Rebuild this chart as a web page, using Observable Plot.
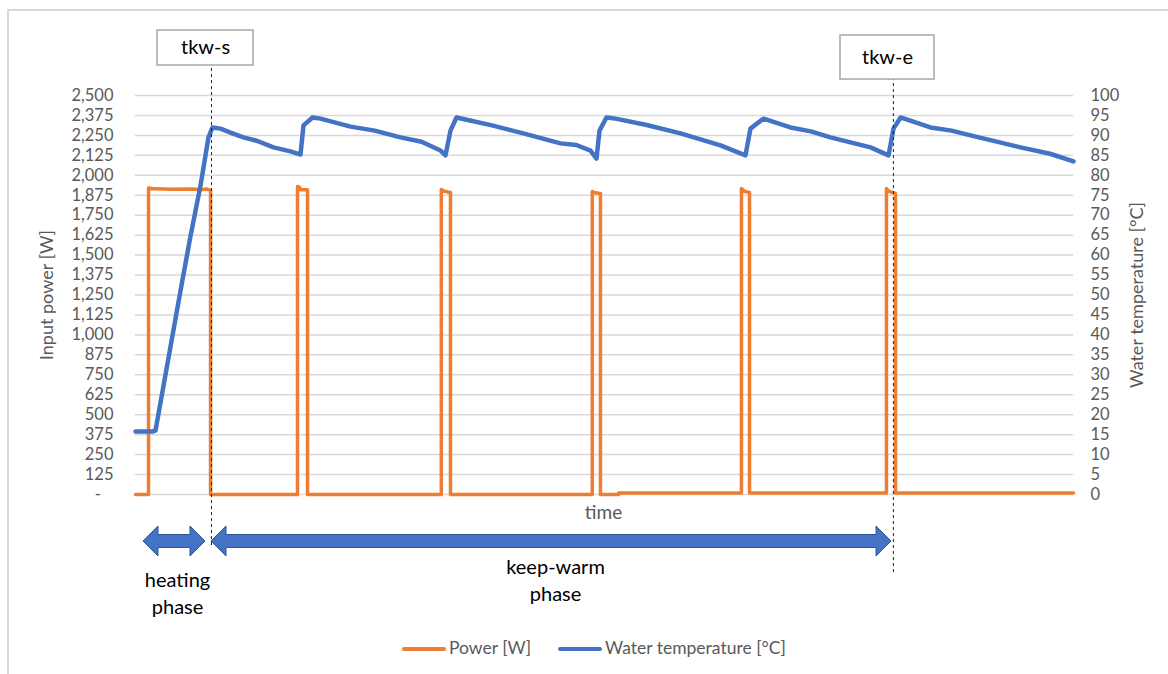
<!DOCTYPE html>
<html>
<head>
<meta charset="utf-8">
<script src="https://cdn.jsdelivr.net/npm/d3@7"></script>
<script src="https://cdn.jsdelivr.net/npm/@observablehq/plot@0.6"></script>
<style>
  html, body { margin: 0; padding: 0; background: #fff; }
  #chart { position: relative; width: 1168px; height: 674px; overflow: hidden; font-family: Lato, "Open Sans", sans-serif; }
  #frame { position: absolute; left: 7px; top: 9px; width: 1200px; height: 700px; border-top: 2px solid #d9d9d9; border-left: 2px solid #d9d9d9; }
  #plot { position: absolute; left: 0; top: 0; }
  #legend { position: absolute; left: 0; top: 630px; width: 1168px; height: 44px; font-size: 17.5px; color: #595959; }
  .sw { position: absolute; top: 17px; width: 44px; height: 4px; border-radius: 2px; }
  .lt { position: absolute; top: 7px; white-space: nowrap; }
</style>
</head>
<body>
<div id="chart">
  <div id="frame"></div>
  <div id="plot"></div>
  <div id="legend"></div>
</div>
<script>
// ---- Data (time in arbitrary units 0..1000) ----
const powerTime = [0, 13.9, 13.9, 20, 40, 60, 70, 76, 80, 80,
  172.7, 172.7, 175, 176, 183.4, 183.4,
  326, 326, 329, 335.8, 335.8,
  487, 487, 490, 495.7, 495.7, 515, 515,
  646, 646, 649, 654.6, 654.6,
  800.6, 800.6, 803, 810.2, 810.2, 1000];
const powerW = [0, 0, 1920, 1915, 1912, 1914, 1910, 1914, 1905, 0,
  0, 1930, 1925, 1910, 1910, 0,
  0, 1911, 1900, 1892, 0,
  0, 1898, 1890, 1886, 0, 0, 10,
  10, 1917, 1900, 1892, 10,
  10, 1917, 1900, 1886, 10, 10];

const tempTime = [0, 18.1, 21.3, 29.9, 48.0, 58.6, 69.3, 77.8, 82.1, 90.6, 101.3, 115.1, 130, 147.1, 165.2, 175.9,
  179.1, 188.7, 197.2, 229.2, 255, 282.5, 305, 325.2, 330.5,
  335.8, 342.2, 351.8, 380, 410.4, 453.1, 470, 485.1, 491.5,
  494.7, 502.1, 511.7, 545, 581.0, 623.7, 650.3,
  655.6, 669.5, 698.3, 720, 740.9, 783.6, 802.8,
  808.1, 815.6, 847.5, 870, 890.2, 943.5, 975, 1000];
const tempC = [15.8, 15.8, 16.0, 27.3, 51.1, 64.7, 77.4, 89.5, 92.0, 91.7, 90.7, 89.5, 88.6, 87.0, 86.0, 85.2,
  92.5, 94.5, 94.2, 92.2, 91.2, 89.5, 88.4, 86.2, 85.0,
  91.2, 94.5, 94.0, 92.5, 90.7, 88.0, 87.6, 86.2, 84.2,
  91.2, 94.5, 94.2, 92.6, 90.5, 87.5, 85.0,
  91.7, 94.2, 92.0, 91.0, 89.5, 87.0, 85.0,
  91.7, 94.5, 92.0, 91.2, 90.0, 87.0, 85.4, 83.5];

const powerTicks = d3.range(0, 2501, 125);
const tempTicks = d3.range(0, 101, 5);
const wattsPerDegree = 25; // 100 °C on the right axis lines up with 2,500 W on the left

// ---- Annotations (data space) ----
const markerLabels = ["tkw-s", "tkw-e"];
const markerTime = [81, 808];
const markerBottom = [-320, -489];
const boxX1 = [23.5, 751.6];
const boxX2 = [125.8, 851.8];
const boxTop = [2907, 2876];
const boxBottom = [2688, 2600];

const phaseLabels = ["heating\nphase", "keep-warm\nphase"];
const phaseStart = [8.5, 81];
const phaseEnd = [74.6, 806];
const phaseLabelX = [44.8, 447.8];
const phaseLabelY = [-610, -529];
const arrowLevel = -294.5;

const colors = { power: "#ed7d31", temp: "#4472c4", grid: "#d9d9d9", text: "#595959" };

// ---- Build tables ----
const power = powerTime.map((t, i) => ({ t, w: powerW[i] }));
const temp = tempTime.map((t, i) => ({ t, c: tempC[i] }));
const markers = markerLabels.map((label, i) => ({
  label, t: markerTime[i], bottom: markerBottom[i],
  x1: boxX1[i], x2: boxX2[i], y1: boxBottom[i], y2: boxTop[i]
}));
const phases = phaseLabels.map((label, i) => ({
  label, start: phaseStart[i], end: phaseEnd[i], lx: phaseLabelX[i], ly: phaseLabelY[i]
}));

function arrowMark(index, scales) {
  const g = d3.create("svg:g");
  for (const p of phases) {
    const x1 = scales.x(p.start), x2 = scales.x(p.end), y = scales.y(arrowLevel);
    const b = 6.5, h = 15, L = 15;
    const d = `M${x1},${y} L${x1 + L},${y - h} L${x1 + L},${y - b} L${x2 - L},${y - b} L${x2 - L},${y - h} L${x2},${y} ` +
              `L${x2 - L},${y + h} L${x2 - L},${y + b} L${x1 + L},${y + b} L${x1 + L},${y + h} Z`;
    g.append("path").attr("d", d).attr("fill", colors.temp).attr("stroke", "#2f5597").attr("stroke-width", 1);
  }
  return g.node();
}

const chart = Plot.plot({
  width: 1168,
  height: 630,
  marginTop: 95,
  marginBottom: 136,
  marginLeft: 135,
  marginRight: 95,
  style: { fontFamily: "Lato, 'Open Sans', sans-serif", fontSize: "16.5px", background: "transparent", overflow: "visible", color: colors.text },
  x: { domain: [0, 1000], axis: null },
  y: { domain: [0, 2500], axis: null },
  marks: [
    Plot.ruleY(powerTicks, { stroke: colors.grid, strokeWidth: 1.5 }),
    Plot.axisY({ anchor: "left", ticks: powerTicks, tickSize: 0, tickPadding: 22, label: null, fill: colors.text,
      tickFormat: d => d === 0 ? "-\u00a0\u00a0\u00a0" : d3.format(",")(d) }),
    Plot.axisY({ anchor: "right", ticks: tempTicks.map(d => d * wattsPerDegree), tickSize: 0, tickPadding: 17, label: null, fill: colors.text,
      tickFormat: d => String(d / wattsPerDegree) }),
    Plot.text(["Input power [W]"], { frameAnchor: "left", dx: -88, rotate: -90, fontSize: 18, fill: colors.text, textAnchor: "middle" }),
    Plot.text(["Water temperature [°C]"], { frameAnchor: "right", dx: 64, rotate: -90, fontSize: 18, fill: colors.text, textAnchor: "middle" }),
    Plot.text(["time"], { x: () => 499, y: () => -113, fontSize: 19, fill: colors.text }),
    Plot.line(power, { x: "t", y: "w", stroke: colors.power, strokeWidth: 3.5, strokeLinejoin: "round" }),
    Plot.line(temp, { x: "t", y: d => d.c * wattsPerDegree, stroke: colors.temp, strokeWidth: 4.5, strokeLinejoin: "round" }),
    Plot.ruleX(markers, { x: "t", y1: "bottom", y2: "y1", stroke: "#222", strokeWidth: 1, strokeDasharray: "3,3" }),
    Plot.rect(markers, { x1: "x1", x2: "x2", y1: "y1", y2: "y2", fill: "white", stroke: "#a6a6a6", strokeWidth: 1.5 }),
    Plot.text(markers, { x: d => (d.x1 + d.x2) / 2, y: d => (d.y1 + d.y2) / 2, text: "label", fontSize: 20, fill: "#000" }),
    arrowMark,
    Plot.text(phases, { x: "lx", y: "ly", text: "label", fontSize: 20, fill: "#000", lineHeight: 1.35 })
  ]
});
document.getElementById("plot").appendChild(chart);

// ---- Legend ----
const legendItems = [
  { label: "Power [W]", color: colors.power, sw: 402, tx: 449 },
  { label: "Water temperature [°C]", color: colors.temp, sw: 558, tx: 605 }
];
const legend = document.getElementById("legend");
for (const it of legendItems) {
  const s = document.createElement("span"); s.className = "sw"; s.style.left = it.sw + "px"; s.style.background = it.color; legend.appendChild(s);
  const t = document.createElement("span"); t.className = "lt"; t.style.left = it.tx + "px"; t.textContent = it.label; legend.appendChild(t);
}
</script>
</body>
</html>
